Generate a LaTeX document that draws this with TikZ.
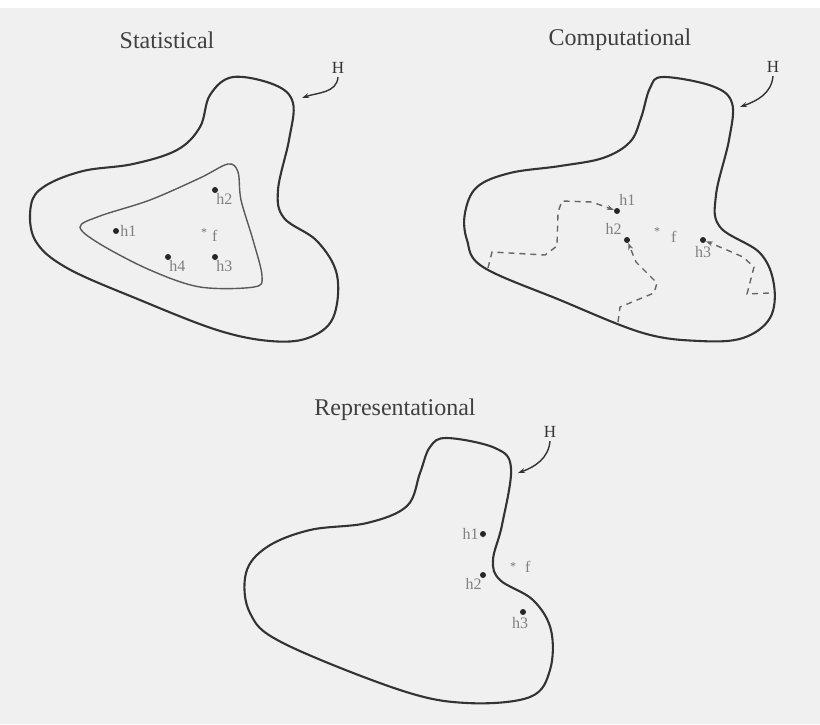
\documentclass[tikz,border=0pt]{standalone}
\usepackage{fontspec}
\setmainfont{Liberation Serif}
\usetikzlibrary{arrows.meta}
\begin{document}
\begin{tikzpicture}[x=1pt,y=-1pt,
  outer/.style={draw=black!80,line width=2.1pt,smooth cycle,tension=0.6},
  inner/.style={draw=black!65,line width=1.4pt},
  ttl/.style={font=\fontsize{24}{26}\selectfont,text=black!75},
  hlab/.style={font=\fontsize{17}{19}\selectfont,text=black!80},
  hyp/.style={circle,fill=black!85,inner sep=0pt,minimum size=6pt},
  tgt/.style={inner sep=0pt,font=\fontsize{12}{12}\selectfont,text=black!55},
  plab/.style={font=\fontsize{16}{17}\selectfont,text=black!50,inner sep=1pt},
  harrow/.style={draw=black!80,line width=1.4pt,-{Stealth[length=7pt,width=5pt]}},
  walk/.style={draw=black!60,line width=1.4pt,dashed,dash pattern=on 6pt off 5pt,-{Stealth[length=7pt,width=5pt]}}]
\fill[black!6] (0,0) rectangle (820,724);
\fill[white] (0,0) rectangle (820,8);
\useasboundingbox (0,0) rectangle (820,724);

% ---------------- Statistical ----------------
\node[ttl] (t1) at (167,40) {Statistical};
\draw[outer] plot coordinates {(233,77) (275,85) (293,103) (289,140) (278,190) (284,218) (317,241) (337,275) (333,318) (308,338) (270,341) (217,330) (140,300) (67,268) (35,240) (31,205) (45,186) (83,171) (133,164) (177,150) (200,127) (210,95)};
\draw[inner,smooth cycle,tension=0.55] plot coordinates {(80,227) (100,216) (150,200) (200,178) (228,164) (238,172) (241,200) (253,240) (262,276) (254,287) (200,287) (150,270) (100,244)};
\node[hlab] (H1) at (338,68) {H};
\coordinate (H1e) at (302,98);
\draw[harrow] (H1.south) to[out=-95,in=20] (H1e);
\node[hyp] (s1) at (116,231) {};
\node[plab,anchor=west] at (s1.east) {h1};
\node[hyp] (s2) at (215,190) {};
\node[plab,anchor=north west] at ([xshift=-2pt]s2.south east) {h2};
\node[tgt] (sf) at (204,233) {*};
\node[plab,anchor=west] at (211,236) {f};
\node[hyp] (s4) at (168,257) {};
\node[plab,anchor=north west] at ([xshift=-2pt]s4.south east) {h4};
\node[hyp] (s3) at (215,257) {};
\node[plab,anchor=north west] at ([xshift=-2pt]s3.south east) {h3};

% ---------------- Computational ----------------
\node[ttl] (t2) at (620,40) {Computational};
\draw[outer] plot coordinates {(663,77) (712,86) (732,103) (729,140) (716,195) (720,227) (760,253) (774,285) (770,318) (743,338) (700,341) (643,333) (560,300) (483,267) (467,240) (465,213) (477,187) (510,173) (560,166) (603,158) (630,142) (641,118) (650,88)};
\node[hlab] (H2) at (773,67) {H};
\coordinate (H2e) at (740,107);
\draw[harrow] (H2.south) to[out=-95,in=20] (H2e);
\node[hyp] (c1) at (617,211) {};
\node[plab,anchor=south west] at ([xshift=-1pt,yshift=2pt]c1.north east) {h1};
\node[hyp] (c2) at (627,240) {};
\node[plab,anchor=east] at ([xshift=-1pt,yshift=11pt]c2.west) {h2};
\node[tgt] (cf) at (657,232) {*};
\node[plab,anchor=west] at (670,237) {f};
\node[hyp] (c3) at (703,240) {};
\node[plab,anchor=north] at ([yshift=-2pt]c3.south) {h3};
\coordinate (w1) at (488,268);
\coordinate (w2) at (618,322);
\coordinate (w3) at (769,293);
\draw[walk] (w1) -- (492,252) -- (545,255) -- (557,246) -- (558,212) -- (562,201) -- (592,202) -- (c1);
\draw[walk] (w2) -- (620,307) -- (654,293) -- (657,283) -- (636,262) -- (c2);
\draw[walk] (w3) -- (747,294) -- (754,267) -- (743,257) -- (727,250) -- (c3);

% ---------------- Representational ----------------
\node[ttl] (t3) at (395,410) {Representational};
\draw[outer] plot coordinates {(447,438) (495,448) (511,468) (502,525) (493,560) (500,580) (533,600) (551,630) (550,670) (530,697) (467,703) (400,690) (283,643) (250,613) (246,573) (267,547) (310,530) (367,523) (407,506) (420,473) (430,447)};
\node[hlab] (H3) at (550,432) {H};
\coordinate (H3e) at (518,473);
\draw[harrow] (H3.south) to[out=-95,in=20] (H3e);
\node[hyp] (r1) at (483,534) {};
\node[plab,anchor=east] at (r1.west) {h1};
\node[hyp] (r2) at (483,575) {};
\node[plab,anchor=north east] at ([xshift=2pt]r2.south west) {h2};
\node[tgt] (rf) at (513,567) {*};
\node[plab,anchor=west] at (524,567) {f};
\node[hyp] (r3) at (523,612) {};
\node[plab,anchor=north] at ([xshift=-3pt,yshift=-1pt]r3.south) {h3};
\end{tikzpicture}
\end{document}
